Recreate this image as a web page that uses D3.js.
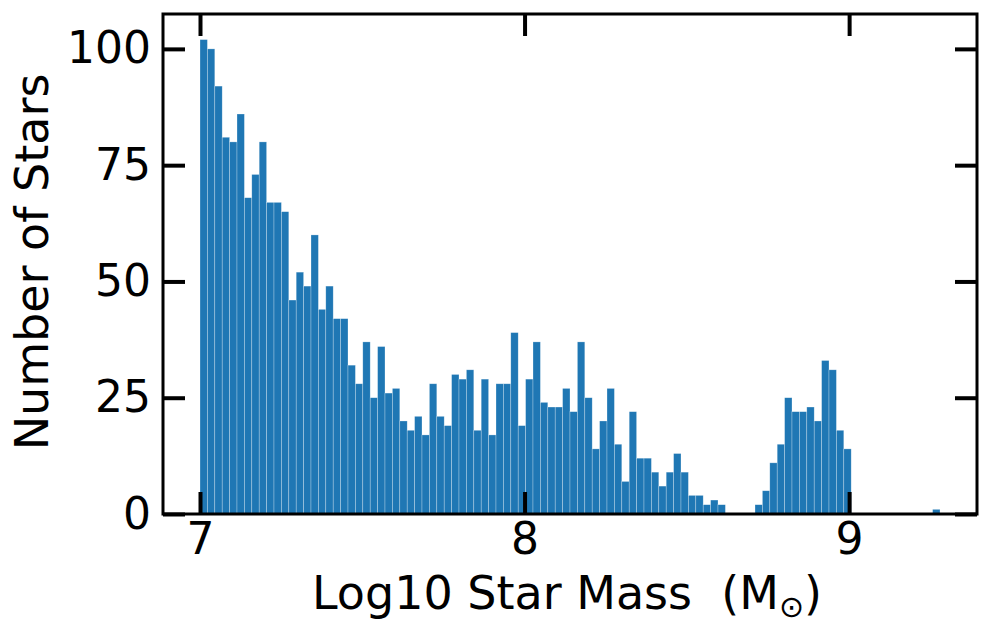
<!DOCTYPE html>
<html>
<head>
<meta charset="utf-8">
<script src="https://cdn.jsdelivr.net/npm/d3@7"></script>
<style>
  html, body { margin: 0; padding: 0; background: #fff; }
  svg { display: block; }
  text { font-family: "DejaVu Sans", sans-serif; fill: #000; white-space: pre; }
</style>
</head>
<body>
<svg id="chart" width="992" height="636"></svg>
<script>
// ---- data ----
const binStart = 7.0;
const binEnd = 9.28;
const counts = [
  102,100,92,81,80,86,68,73,80,67,67,65,46,52,49,60,44,49,42,42,32,28,
  37,25,36,26,27,20,18,21,17,28,21,19,30,29,31,18,29,17,28,28,39,19,
  29,37,24,23,23,27,22,37,25,14,20,27,15,7,22,12,12,9,6,9,13,9,4,4,2,3,2,
  0,0,0,0,
  2,5,11,15,25,22,22,23,20,33,31,18,14,
  0,0,0,0,0,0,0,0,0,0,0,
  1
];
const xTicks = [7, 8, 9];
const yTicks = [0, 25, 50, 75, 100];
const xLabel = "Log10 Star Mass\u00a0\u00a0(M";
const xLabelSub = "⊙";
const yLabel = "Number of Stars";

// ---- layout ----
const L = 163, R = 977, T = 14, B = 514;
const nBins = counts.length;
const bw = (binEnd - binStart) / nBins;
const bins = counts.map((c, i) => ({ x0: binStart + i * bw, x1: binStart + (i + 1) * bw, n: c }));

const pad = (binEnd - binStart) * 0.05;
const x = d3.scaleLinear().domain([binStart - pad, binEnd + pad]).range([L, R]);
const y = d3.scaleLinear().domain([0, 107.5]).range([B, T]);

const svg = d3.select("#chart");

// bars
svg.append("g").selectAll("rect").data(bins.filter(d => d.n > 0)).join("rect")
  .attr("x", d => x(d.x0))
  .attr("width", d => x(d.x1) - x(d.x0))
  .attr("y", d => y(d.n))
  .attr("height", d => y(0) - y(d.n))
  .attr("fill", "#1f77b4")
  .attr("stroke", "#ffffff")
  .attr("stroke-opacity", 0.45)
  .attr("stroke-width", 0.6);

// ticks (inward, all four sides)
const tickLen = 22, tickW = 4, fs = 44;
const axB = d3.axisBottom(x).tickValues(xTicks).tickSize(-tickLen).tickPadding(9).tickFormat(d3.format("d"));
const axT = d3.axisTop(x).tickValues(xTicks).tickSize(-tickLen).tickFormat("");
const axLft = d3.axisLeft(y).tickValues(yTicks).tickSize(-tickLen).tickPadding(12).tickFormat(d3.format("d"));
const axRgt = d3.axisRight(y).tickValues(yTicks).tickSize(-tickLen).tickFormat("");

function style(g) {
  g.select(".domain").remove();
  g.selectAll(".tick line").attr("stroke", "#000").attr("stroke-width", tickW);
  g.selectAll(".tick text").style("font-size", fs + "px").attr("fill", "#000")
    .style("font-family", "'DejaVu Sans', sans-serif");
}
svg.append("g").attr("transform", `translate(0,${B})`).call(axB).call(style);
svg.append("g").attr("transform", `translate(0,${T})`).call(axT).call(style);
svg.append("g").attr("transform", `translate(${L},0)`).call(axLft).call(style);
svg.append("g").attr("transform", `translate(${R},0)`).call(axRgt).call(style);

// frame
svg.append("rect").attr("x", L).attr("y", T).attr("width", R - L).attr("height", B - T)
  .attr("fill", "none").attr("stroke", "#000").attr("stroke-width", 3);

// axis labels
const xl = svg.append("text").attr("x", 567).attr("y", 609)
  .attr("text-anchor", "middle").style("font-size", "46px");
xl.append("tspan").text(xLabel);
xl.append("tspan").text(xLabelSub).attr("dy", 8).style("font-size", "30px");
xl.append("tspan").text(")").attr("dy", -8);

svg.append("text")
  .attr("transform", `translate(48,${(T + B) / 2 - 2}) rotate(-90)`)
  .attr("text-anchor", "middle").style("font-size", "46px")
  .text(yLabel);
</script>
</body>
</html>
